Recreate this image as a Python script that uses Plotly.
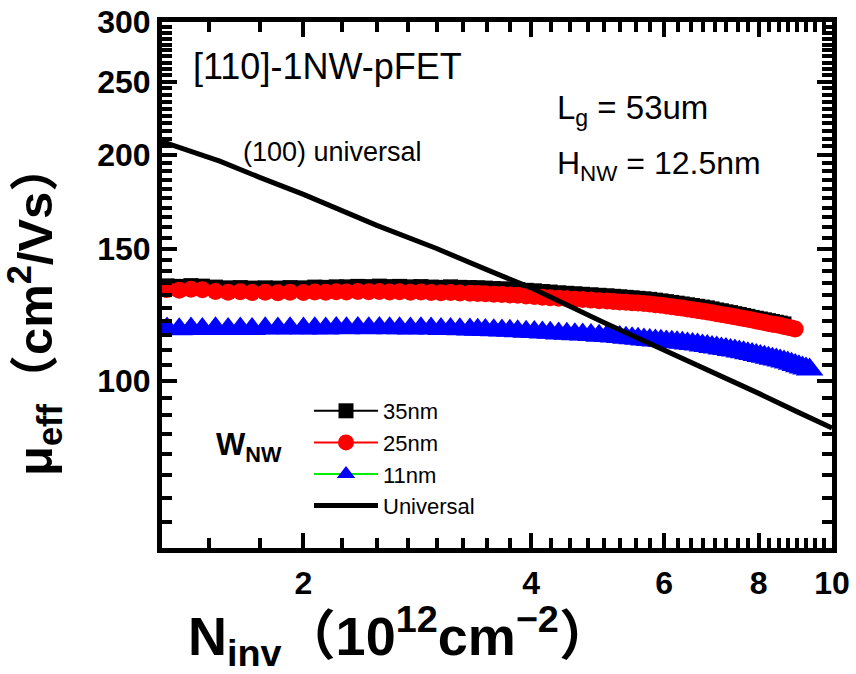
import plotly.graph_objects as go

# Inversion charge density (10^12 cm^-2) at which mobility was sampled
n_inv = [1.32, 1.37, 1.42, 1.47, 1.53, 1.59, 1.65, 1.71, 1.78, 1.85, 1.92, 2.00,
         2.07, 2.14, 2.21, 2.28, 2.36, 2.44, 2.52, 2.60, 2.68, 2.77, 2.86, 2.95, 3.04, 3.13, 3.22, 3.32,
         3.40, 3.48, 3.57, 3.66, 3.75, 3.84, 3.94, 4.04, 4.14, 4.24, 4.35, 4.46, 4.57, 4.68, 4.80, 4.92, 5.04,
         5.14, 5.24, 5.34, 5.44, 5.54, 5.64, 5.74, 5.84, 5.94, 6.04, 6.14, 6.24, 6.34, 6.44, 6.54, 6.64,
         6.74, 6.84, 6.94, 7.04, 7.14, 7.24, 7.34, 7.44, 7.54, 7.64, 7.74, 7.84, 7.94, 8.04, 8.14, 8.24,
         8.34, 8.44, 8.54, 8.64, 8.74, 8.84, 8.94, 9.04, 9.14, 9.24, 9.34]

# Effective hole mobility (cm^2/Vs) for each nanowire width
mu_35nm = [133.8, 133.6, 133.9, 133.7, 133.3, 133.0, 133.1, 132.9, 133.0, 132.9, 133.1, 133.0,
           133.3, 133.2, 133.4, 133.4, 133.6, 133.5, 133.7, 133.5, 133.6, 133.4, 133.5, 133.3, 133.2, 133.4, 133.2, 133.1,
           133.0, 132.9, 132.7, 132.6, 132.4, 132.3, 132.0, 131.8, 131.5, 131.3, 131.0, 130.8, 130.6, 130.4, 130.2, 130.0, 129.8,
           129.6, 129.4, 129.2, 129.0, 128.8, 128.6, 128.4, 128.1, 127.8, 127.5, 127.2, 126.9, 126.6, 126.3, 126.0, 125.7,
           125.4, 125.1, 124.7, 124.3, 124.0, 123.6, 123.3, 122.9, 122.6, 122.2, 121.9, 121.5, 121.2, 120.9, 120.6, 120.3,
           120.0, 119.7, 119.4, 119.1]

mu_25nm = [132.3, 132.0, 132.4, 132.2, 131.5, 131.2, 131.4, 131.1, 131.2, 131.0, 131.2, 131.1,
           131.3, 131.2, 131.4, 131.3, 131.5, 131.4, 131.5, 131.3, 131.4, 131.2, 131.3, 131.1, 131.0, 131.1, 130.9, 130.8,
           130.7, 130.6, 130.4, 130.3, 130.1, 130.0, 129.7, 129.5, 129.2, 129.0, 128.8, 128.6, 128.4, 128.3, 128.1, 127.9, 127.8,
           127.6, 127.4, 127.3, 127.1, 127.0, 126.8, 126.6, 126.3, 126.1, 125.8, 125.5, 125.2, 125.0, 124.7, 124.4, 124.1,
           123.8, 123.5, 123.2, 122.9, 122.6, 122.3, 122.0, 121.7, 121.4, 121.1, 120.8, 120.5, 120.2, 119.9, 119.6, 119.3,
           119.0, 118.8, 118.5, 118.2, 117.9, 117.6, 117.3]

mu_11nm = [117.4, 117.2, 117.4, 117.3, 117.5, 117.3, 117.4, 117.3, 117.5, 117.4, 117.5, 117.4,
           117.5, 117.4, 117.6, 117.5, 117.6, 117.5, 117.6, 117.5, 117.5, 117.4, 117.5, 117.4, 117.3, 117.3, 117.2, 117.1,
           117.0, 116.9, 116.8, 116.7, 116.6, 116.5, 116.3, 116.2, 116.0, 115.9, 115.7, 115.6, 115.4, 115.3, 115.1, 114.9, 114.8,
           114.6, 114.4, 114.2, 114.0, 113.8, 113.6, 113.4, 113.2, 113.1, 112.9, 112.8, 112.6, 112.4, 112.2, 112.0, 111.8,
           111.5, 111.3, 111.0, 110.8, 110.5, 110.3, 110.0, 109.8, 109.5, 109.2, 108.9, 108.6, 108.3, 108.0, 107.7, 107.4,
           107.1, 106.8, 106.5, 106.2, 105.8, 105.4, 105.0, 104.6, 104.2, 103.9, 103.6]

# (100) universal hole mobility curve
univ_n = [1.3, 1.55, 1.75, 2.0, 2.5, 3.0, 3.5, 4.0, 5.0, 6.0, 7.0, 8.0, 9.0, 10.0]
univ_mu = [208, 196, 186.5, 177, 161, 150, 140.5, 133, 119.5, 110, 102.5, 96.3, 91, 86.6]

x_major = [2, 4, 6, 8, 10]
x_minor = [1.5, 1.75, 2.25, 2.5, 2.75, 3, 3.25, 3.5, 3.75, 4.25, 4.5, 4.75, 5, 5.25, 5.5, 5.75,
           6.25, 6.5, 6.75, 7, 7.25, 7.5, 7.75, 8.25, 8.5, 8.75, 9, 9.25, 9.5, 9.75]
y_major = [100, 150, 200, 250, 300]
y_minor = [v for v in range(60, 300, 5) if v not in y_major]

X_RANGE = [0.11394, 1.0]      # log10 of 1.3 .. 10
Y_RANGE = [1.77815, 2.47712]  # log10 of 60 .. 300

SANS = "Liberation Sans, Arial, Noto Sans CJK JP, sans-serif"

fig = go.Figure()
fig.add_trace(go.Scatter(x=n_inv[:len(mu_35nm)], y=mu_35nm, name="35nm", mode="lines+markers",
                         line=dict(color="black", width=2),
                         marker=dict(symbol="square", size=15, color="black")))
fig.add_trace(go.Scatter(x=n_inv[:len(mu_25nm)], y=mu_25nm, name="25nm", mode="lines+markers",
                         line=dict(color="red", width=2),
                         marker=dict(symbol="circle", size=17, color="red")))
fig.add_trace(go.Scatter(x=n_inv[:len(mu_11nm)], y=mu_11nm, name="11nm", mode="lines+markers",
                         line=dict(color="#00ee00", width=2),
                         marker=dict(symbol="triangle-up", size=24, color="blue")))
fig.add_trace(go.Scatter(x=univ_n, y=univ_mu, name="Universal", mode="lines",
                         line=dict(color="black", width=5)))
# transparent carrier trace so the minor-tick axes are laid out
fig.add_trace(go.Scatter(x=univ_n, y=univ_mu, xaxis="x2", yaxis="y2", mode="lines",
                         line=dict(color="rgba(0,0,0,0)"), showlegend=False, hoverinfo="skip"))

L, R, T, B = 162, 832, 22, 548
W, H = 856, 674


def px(xp, yp):
    return (xp - L) / (R - L), (B - yp) / (B - T)


major = dict(type="log", showline=True, linewidth=5, linecolor="black", mirror="ticks",
             ticks="inside", ticklen=15, tickwidth=4, tickcolor="black", showgrid=False,
             zeroline=False, tickmode="array", automargin=False, layer="above traces",
             tickfont=dict(family=SANS, size=32, color="black", weight="bold"))
minor = dict(type="log", showline=True, linewidth=5, linecolor="black", mirror="ticks",
             ticks="inside", ticklen=10, tickwidth=4, tickcolor="black", showgrid=False,
             zeroline=False, showticklabels=False, tickmode="array", automargin=False,
             layer="above traces")

fig.update_layout(
    xaxis=dict(**major, range=X_RANGE, tickvals=x_major, ticktext=[str(v) for v in x_major],
               ticklabelstandoff=3),
    yaxis=dict(**major, range=Y_RANGE, tickvals=y_major, ticktext=[str(v) for v in y_major]),
    xaxis2=dict(**minor, range=X_RANGE, tickvals=x_minor, overlaying="x", side="bottom", anchor="y"),
    yaxis2=dict(**minor, range=Y_RANGE, tickvals=y_minor, overlaying="y", side="left", anchor="x"),
)

annotations = []


def note(text, xp, yp, size, xanchor="left", yanchor="middle", angle=0):
    ax, ay = px(xp, yp)
    annotations.append(dict(text=text, x=ax, y=ay, xref="paper", yref="paper", showarrow=False,
                            xanchor=xanchor, yanchor=yanchor, textangle=angle,
                            font=dict(family=SANS, size=size, color="black")))


note("[110]-1NW-pFET", 191, 66, 36)
note("(100) universal", 241, 152, 27)
note("L<sub>g</sub> = 53um", 555, 110, 33)
note("H<sub>NW</sub> = 12.5nm", 555, 165, 32)
note("<b>W<sub>NW</sub></b>", 214, 447, 31)
note("<b>N<sub>inv</sub>（10<sup>12</sup>cm<sup>−2</sup>）</b>", 400, 636, 54, xanchor="center")
note("<b>μ<sub>eff</sub>（cm<sup>2</sup>/Vs）</b>", 34, 310, 49, xanchor="center", angle=-90)

fig.update_layout(
    width=W, height=H,
    margin=dict(l=L, r=W - R, t=T, b=H - B, autoexpand=False),
    plot_bgcolor="white", paper_bgcolor="white",
    annotations=annotations,
    showlegend=True,
    legend=dict(x=px(309, 0)[0], y=px(0, 390)[1], xanchor="left", yanchor="top",
                bgcolor="rgba(0,0,0,0)", borderwidth=0, itemwidth=64, tracegroupgap=0,
                font=dict(family=SANS, size=22, color="black")),
)

fig.write_html("out.html")
